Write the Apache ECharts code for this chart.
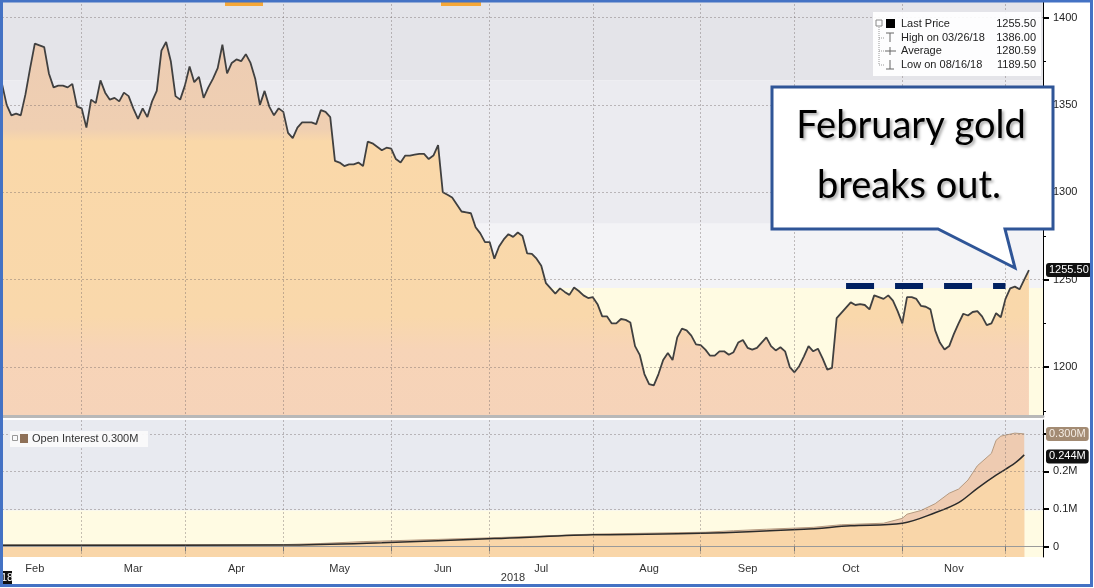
<!DOCTYPE html>
<html><head><meta charset="utf-8">
<script src="https://cdn.jsdelivr.net/npm/echarts@6/dist/echarts.min.js"></script>
<style>html,body{margin:0;padding:0;background:#fff}#c{width:1094px;height:588px}</style>
</head><body><div id="c"></div>
<script>
// ---------- data ----------
const startDate = [2018, 1, 6];   // first weekday shown (Feb 6 2018)
const endDate = [2018, 11, 13];   // last weekday on the axis (Dec 13 2018)
const monthLabels = ['Jan','Feb','Mar','Apr','May','Jun','Jul','Aug','Sep','Oct','Nov','Dec'];
const labelledMonths = [1,2,3,4,5,6,7,8,9,10];
const yearLabel = '2018';
const priceTicks = [1200, 1250, 1300, 1350, 1400];
const oiLabelTicks = [0, 0.1, 0.2];
const oiGridTicks = [0, 0.1, 0.2, 0.3];

// February gold, daily closes on weekdays from Feb 6 2018
const priceValues = [
1362,1350,1344,1345,1344,1356,1371,1385,1384,1383,
1368,1360,1361,1361,1360,1362,1349,1348,1337,1353,
1351,1364,1357,1353,1354,1352,1357,1355,1348,1342,
1348,1343,1352,1358,1381,1386,1375,1355,1353,1361,
1372,1363,1366,1354,1360,1365,1371,1384.5,1368,1374,
1376,1375,1379,1374,1365,1350,1358,1349,1344,1348,
1346,1334,1331,1337,1340,1340,1340,1339,1347,1346,
1343,1318,1317,1315,1316,1316,1317,1315,1329,1328,
1326,1324,1325.5,1325,1319,1317,1321,1321,1321.5,1322,
1322,1319,1321,1327,1300,1298.6,1297,1293,1289,1288.5,
1288,1280,1276.5,1271.5,1271.5,1262,1269,1273,1276,1274.5,
1277,1275,1265,1264.8,1262,1258,1248,1245,1242,1245,
1243,1241.3,1245.5,1243.5,1241,1239.5,1240,1236,1229,1229,
1225,1225,1227.5,1227,1225.5,1212,1207,1196,1190.3,1189.5,
1196,1204,1208,1204,1217,1222,1221,1218,1213,1212.5,
1210,1206.5,1206.5,1209,1209,1207,1208.5,1214,1215.5,1211,
1210,1211,1214,1217,1212,1209.5,1211.3,1209,1200,1197,
1200.5,1206,1212,1209,1210.5,1205,1198.5,1199.5,1228,1231,
1234,1237,1235.5,1236,1235.5,1233,1241,1240,1239,1241,
1238,1232,1225,1240,1240,1239,1235,1234.5,1233,1221,
1214,1210,1212,1219,1225,1230.5,1229.5,1231.5,1232,1229,
1224,1225,1230.8,1228.5,1239,1245,1246,1244.5,1250,1255.5
];

const oiDates = ['2018-02-06','2018-05-01','2018-05-11','2018-05-24','2018-07-02','2018-08-01','2018-09-04','2018-09-12','2018-09-21','2018-10-05','2018-10-15','2018-10-26','2018-11-01','2018-11-02','2018-11-07','2018-11-12','2018-11-15','2018-11-19','2018-11-21','2018-11-23','2018-11-28','2018-11-29','2018-11-30','2018-12-05','2018-12-07'];
const oiValues = [0.004,0.005,0.008,0.013,0.023,0.033,0.038,0.042,0.046,0.051,0.058,0.062,0.075,0.086,0.096,0.114,0.142,0.153,0.177,0.215,0.248,0.283,0.294,0.302,0.300];

const maDates = ['2018-02-06','2018-05-01','2018-05-30','2018-07-03','2018-08-01','2018-09-03','2018-10-03','2018-10-17','2018-11-01','2018-11-12','2018-11-19','2018-11-23','2018-11-29','2018-12-05','2018-12-07'];
const maValues = [0.003,0.004,0.010,0.021,0.031,0.035,0.046,0.055,0.062,0.090,0.117,0.155,0.190,0.222,0.244];

const priceBandEdges = [1410, 1364, 1282, 1245.3, 1172];
const priceBandColors = ['#e4e4e9', '#ebebf0', '#f3f3f6', '#fffbe2'];
const oiBandEdges = [0.337, 0.096, -0.028];
const oiBandColors = ['#e8eaf0', '#fffbe3'];

const legendRows = ['Last Price', 'High on 03/26/18', 'Average', 'Low on 08/16/18'];
const legendValues = ['1255.50', '1386.00', '1280.59', '1189.50'];
const lastPrice = 1255.5;
const lastPriceText = '1255.50';
const breakoutLevel = 1246.5;
const breakoutFrom = '2018-10-16';
const breakoutTo = '2018-12-03';
const oiLast = 0.300, oiLastText = '0.300M';
const maLast = 0.244, maLastText = '0.244M';
const oiLegend = 'Open Interest 0.300M';
const calloutLines = ['February gold', 'breaks out.'];

// ---------- build weekday categories ----------
const pad = n => (n < 10 ? '0' : '') + n;
const iso = d => d.getUTCFullYear() + '-' + pad(d.getUTCMonth() + 1) + '-' + pad(d.getUTCDate());
const cats = [];
{
  let d = new Date(Date.UTC(startDate[0], startDate[1], startDate[2]));
  const e = new Date(Date.UTC(endDate[0], endDate[1], endDate[2]));
  while (d <= e) {
    const w = d.getUTCDay();
    if (w !== 0 && w !== 6) cats.push(iso(d));
    d = new Date(d.getTime() + 86400000);
  }
}
const priceData = priceValues.map((v, i) => [cats[i], v]);
const oiData = oiDates.map((d, i) => [d, oiValues[i]]);
const maData = maDates.map((d, i) => [d, maValues[i]]);

// month starts (ticks / grid) and mid-month label positions
const monthStart = new Set();
for (let i = 1; i < cats.length; i++) if (cats[i].slice(5, 7) !== cats[i - 1].slice(5, 7)) monthStart.add(i);
const labelIdx = new Set();
labelledMonths.forEach(m => {
  const list = [];
  let d = new Date(Date.UTC(2018, m, 1));
  while (d.getUTCMonth() === m) {
    const w = d.getUTCDay();
    if (w !== 0 && w !== 6) list.push(iso(d));
    d = new Date(d.getTime() + 86400000);
  }
  const idx = cats.indexOf(list[Math.round(list.length / 2)]);
  if (idx >= 0) labelIdx.add(idx);
});

// ---------- styles ----------
const FONT = 'Liberation Sans';
const gridLine = { show: true, lineStyle: { color: 'rgba(110,100,100,0.4)', width: 1, type: [2, 2] } };

const chart = echarts.init(document.getElementById('c'), null, { renderer: 'canvas' });

function band(edges, colors) {
  const out = [];
  for (let i = 0; i < colors.length; i++) out.push([{ yAxis: edges[i], itemStyle: { color: colors[i] } }, { yAxis: edges[i + 1] }]);
  return out;
}

const option = {
  animation: false,
  backgroundColor: '#ffffff',
  grid: [
    { left: 2, right: 51, top: 0, height: 416 },
    { left: 2, right: 51, top: 420, height: 137 }
  ],
  xAxis: [
    {
      gridIndex: 0, type: 'category', data: cats, boundaryGap: false, z: 3,
      axisLine: { show: true, lineStyle: { color: '#b8b8b8', width: 3 } },
      axisTick: { show: false }, axisLabel: { show: false },
      splitLine: Object.assign({ interval: i => monthStart.has(i) }, gridLine)
    },
    {
      gridIndex: 1, type: 'category', data: cats, boundaryGap: false, z: 3,
      axisLine: { show: true, lineStyle: { color: '#9a9a9a', width: 1 } },
      axisTick: { show: true, interval: i => monthStart.has(i), length: 5, lineStyle: { color: '#777' } },
      axisLabel: {
        show: true, interval: i => labelIdx.has(i), margin: 6,
        fontFamily: FONT, fontSize: 11, color: '#333',
        formatter: v => monthLabels[parseInt(v.slice(5, 7), 10) - 1]
      },
      splitLine: Object.assign({ interval: i => monthStart.has(i) }, gridLine)
    }
  ],
  yAxis: [
    {
      gridIndex: 0, type: 'value', position: 'right', min: 1172, max: 1410, z: 3,
      axisLine: { show: true, lineStyle: { color: '#000', width: 1 } },
      axisTick: { show: true, customValues: priceTicks, length: 6, lineStyle: { color: '#000', width: 2 } },
      minorTick: { show: true, splitNumber: 2, length: 3, lineStyle: { color: '#000' } },
      axisLabel: { customValues: priceTicks, fontFamily: FONT, fontSize: 11, color: '#222', margin: 10, formatter: v => String(v) },
      splitLine: gridLine
    },
    {
      gridIndex: 1, type: 'value', position: 'right', min: -0.028, max: 0.337, z: 3,
      axisLine: { show: true, lineStyle: { color: '#000', width: 1 } },
      axisTick: { show: true, customValues: oiGridTicks, length: 6, lineStyle: { color: '#000', width: 2 } },
      axisLabel: {
        customValues: oiLabelTicks, fontFamily: FONT, fontSize: 11, color: '#222', margin: 10,
        formatter: v => (v === 0 ? '0' : v.toFixed(1) + 'M')
      },
      splitLine: gridLine
    }
  ],
  series: [
    {
      name: 'bands', type: 'line', xAxisIndex: 0, yAxisIndex: 0, data: [], z: 0, silent: true,
      markArea: { silent: true, data: band(priceBandEdges, priceBandColors) }
    },
    {
      name: 'bandsOI', type: 'line', xAxisIndex: 1, yAxisIndex: 1, data: [], z: 0, silent: true,
      markArea: { silent: true, data: band(oiBandEdges, oiBandColors) }
    },
    {
      name: 'Last Price', type: 'line', xAxisIndex: 0, yAxisIndex: 0, data: priceData, z: 2,
      showSymbol: false, symbol: 'none',
      lineStyle: { color: '#404040', width: 1.8 },
      areaStyle: {
        origin: 'start', opacity: 1,
        color: {
          type: 'linear', x: 0, y: 0, x2: 0, y2: 416, global: true,
          colorStops: [
            { offset: 0, color: '#eccbb3' }, { offset: 0.31, color: '#efcfb2' },
            { offset: 0.34, color: '#fad8a9' }, { offset: 0.76, color: '#f9d8ab' },
            { offset: 0.84, color: '#f7d4b7' }, { offset: 1, color: '#f6d3b9' }
          ]
        }
      },
      markLine: {
        silent: true, symbol: ['none', 'none'],
        data: [
          [
            { coord: [breakoutFrom, breakoutLevel], lineStyle: { color: '#002060', width: 6, type: [28, 21], cap: 'butt' }, label: { show: false } },
            { coord: [breakoutTo, breakoutLevel] }
          ],
          {
            yAxis: lastPrice, lineStyle: { color: 'transparent', width: 0 },
            label: {
              show: true, position: 'end', formatter: lastPriceText, distance: 3,
              backgroundColor: '#111', color: '#fff', fontFamily: FONT, fontSize: 11,
              padding: [2, 3, 1, 3], borderRadius: 3
            }
          }
        ]
      }
    },
    {
      name: 'Open Interest', type: 'line', xAxisIndex: 1, yAxisIndex: 1, data: oiData, z: 2,
      showSymbol: false, symbol: 'none',
      lineStyle: { color: '#b59a80', width: 1 },
      areaStyle: { origin: 'start', color: '#eecbb1', opacity: 1 },
      markLine: {
        silent: true, symbol: ['none', 'none'],
        data: [{
          yAxis: oiLast, lineStyle: { color: 'transparent', width: 0 },
          label: {
            show: true, position: 'end', formatter: oiLastText, distance: 3,
            backgroundColor: '#a38b73', color: '#f4ece4', fontFamily: FONT, fontSize: 11,
            padding: [2, 3, 1, 3], borderRadius: 3
          }
        }]
      }
    },
    {
      name: 'Open Interest average', type: 'line', xAxisIndex: 1, yAxisIndex: 1, data: maData, z: 2,
      showSymbol: false, symbol: 'none', smooth: 0.35,
      lineStyle: { color: '#2b2b2b', width: 1.5 },
      areaStyle: { origin: 'start', color: '#f9d6a9', opacity: 1 },
      markLine: {
        silent: true, symbol: ['none', 'none'],
        data: [{
          yAxis: maLast, lineStyle: { color: 'transparent', width: 0 },
          label: {
            show: true, position: 'end', formatter: maLastText, distance: 3,
            backgroundColor: '#111', color: '#fff', fontFamily: FONT, fontSize: 11,
            padding: [2, 3, 1, 3], borderRadius: 3
          }
        }]
      }
    }
  ],
  graphic: [
    // top-right stats legend
    { type: 'rect', z: 50, shape: { x: 873, y: 12, width: 168, height: 64 }, style: { fill: 'rgba(255,255,255,0.92)' } },
    { type: 'rect', z: 51, shape: { x: 876, y: 20, width: 6, height: 6 }, style: { fill: 'none', stroke: '#888', lineWidth: 1 } },
    { type: 'line', z: 51, shape: { x1: 879, y1: 27, x2: 879, y2: 65 }, style: { stroke: '#999', lineDash: [1, 1] } },
    { type: 'line', z: 51, shape: { x1: 879, y1: 38, x2: 885, y2: 38 }, style: { stroke: '#999', lineDash: [1, 1] } },
    { type: 'line', z: 51, shape: { x1: 879, y1: 51, x2: 885, y2: 51 }, style: { stroke: '#999', lineDash: [1, 1] } },
    { type: 'line', z: 51, shape: { x1: 879, y1: 65, x2: 885, y2: 65 }, style: { stroke: '#999', lineDash: [1, 1] } },
    { type: 'rect', z: 51, shape: { x: 886, y: 19, width: 9, height: 9 }, style: { fill: '#000' } },
    { type: 'line', z: 51, shape: { x1: 886, y1: 33, x2: 894, y2: 33 }, style: { stroke: '#666' } },
    { type: 'line', z: 51, shape: { x1: 890, y1: 33, x2: 890, y2: 42 }, style: { stroke: '#666' } },
    { type: 'line', z: 51, shape: { x1: 885, y1: 51, x2: 896, y2: 51 }, style: { stroke: '#666' } },
    { type: 'line', z: 51, shape: { x1: 890, y1: 47, x2: 890, y2: 55 }, style: { stroke: '#666' } },
    { type: 'line', z: 51, shape: { x1: 890, y1: 60, x2: 890, y2: 69 }, style: { stroke: '#666' } },
    { type: 'line', z: 51, shape: { x1: 886, y1: 69, x2: 894, y2: 69 }, style: { stroke: '#666' } }
  ].concat(legendRows.map((t, i) => ({
    type: 'text', z: 52, style: { text: t, x: 901, y: 24 + i * 13.5, fill: '#222', fontFamily: FONT, fontSize: 11, align: 'left', verticalAlign: 'middle' }
  }))).concat(legendValues.map((t, i) => ({
    type: 'text', z: 52, style: { text: t, x: 1036, y: 24 + i * 13.5, fill: '#222', fontFamily: FONT, fontSize: 11, align: 'right', verticalAlign: 'middle' }
  }))).concat([
    // open interest legend
    { type: 'rect', z: 50, shape: { x: 10, y: 431, width: 138, height: 16 }, style: { fill: 'rgba(250,250,250,0.95)' } },
    { type: 'rect', z: 51, shape: { x: 12.5, y: 435.5, width: 5, height: 5 }, style: { fill: 'none', stroke: '#999' } },
    { type: 'rect', z: 51, shape: { x: 20, y: 434, width: 8, height: 9 }, style: { fill: '#8e7057' } },
    { type: 'text', z: 52, style: { text: oiLegend, x: 32, y: 439, fill: '#333', fontFamily: FONT, fontSize: 11, align: 'left', verticalAlign: 'middle' } },
    // year label and clipped start tag
    { type: 'text', z: 52, style: { text: yearLabel, x: 513, y: 578, fill: '#333', fontFamily: FONT, fontSize: 11, align: 'center', verticalAlign: 'middle' } },
    { type: 'rect', z: 52, shape: { x: 0, y: 571, width: 12, height: 14 }, style: { fill: '#111' } },
    { type: 'text', z: 53, style: { text: '18', x: 1, y: 578, fill: '#fff', fontFamily: FONT, fontSize: 11, align: 'left', verticalAlign: 'middle' } },
    // clipped orange marks at the top edge
    { type: 'rect', z: 52, shape: { x: 225, y: 2, width: 38, height: 4 }, style: { fill: '#f6a737' } },
    { type: 'rect', z: 52, shape: { x: 441, y: 2, width: 40, height: 4 }, style: { fill: '#f6a737' } },
    // callout
    {
      type: 'polygon', z: 60,
      shape: { points: [[772, 87], [1053, 87], [1053, 229], [1005, 229], [1015, 268], [938, 229], [772, 229]] },
      style: { fill: '#ffffff', stroke: '#2f5597', lineWidth: 3, lineJoin: 'miter' }
    },
    {
      type: 'text', z: 61,
      style: { text: calloutLines[0], x: 911, y: 126, fill: '#000', fontFamily: 'Lato', fontSize: 38, align: 'center', verticalAlign: 'middle',
        textShadowColor: 'rgba(0,0,0,0.35)', textShadowBlur: 3, textShadowOffsetX: 2, textShadowOffsetY: 2 }
    },
    {
      type: 'text', z: 61,
      style: { text: calloutLines[1], x: 909, y: 186, fill: '#000', fontFamily: 'Lato', fontSize: 38, align: 'center', verticalAlign: 'middle',
        textShadowColor: 'rgba(0,0,0,0.35)', textShadowBlur: 3, textShadowOffsetX: 2, textShadowOffsetY: 2 }
    },
    // outer blue frame
    { type: 'rect', z: 70, shape: { x: 1.5, y: 1, width: 1090, height: 584.5 }, style: { fill: 'none', stroke: '#4472c4', lineWidth: 3 } }
  ])
};
chart.setOption(option);
</script>
</body></html>
